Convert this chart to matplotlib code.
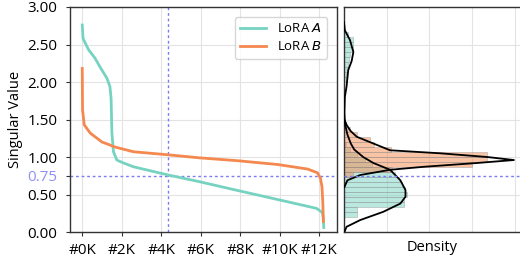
import numpy as np
import matplotlib
matplotlib.use("Agg")
import matplotlib.pyplot as plt
from matplotlib.ticker import FuncFormatter

plt.rcParams['font.family'] = ['Open Sans', 'DejaVu Sans']
plt.rcParams['mathtext.fontset'] = 'custom'
plt.rcParams['mathtext.rm'] = 'Open Sans'
plt.rcParams['mathtext.it'] = 'DejaVu Sans:italic'

# sorted singular values (index, value)
idx_a = [0, 40, 320, 640, 900, 1250, 1400, 1460, 1500, 1580, 1750, 2000, 2590, 4360, 5950, 7980,
         10000, 11850, 12150, 12190, 12220]
sv_a = [2.76, 2.58, 2.43, 2.32, 2.20, 2.05, 1.94, 1.78, 1.32, 1.07, 0.96, 0.93, 0.87, 0.76, 0.67,
        0.547, 0.427, 0.316, 0.26, 0.20, 0.06]
idx_b = [0, 15, 100, 400, 1000, 1410, 1570, 2000, 2600, 4340, 5900, 7900, 9900, 11400, 11900,
         12050, 12130, 12170, 12200]
sv_b = [2.18, 1.63, 1.43, 1.32, 1.20, 1.16, 1.14, 1.11, 1.07, 1.03, 0.99, 0.95, 0.90, 0.84, 0.79,
        0.72, 0.60, 0.40, 0.14]

# histogram bins (lower edge, density), bin width 1/15
bw = 1 / 15
hist_a_lo = [2.600, 2.533, 2.467, 2.400, 2.333, 2.267, 2.200, 2.133, 2.067, 2.000,
             1.133, 1.067, 1.000, 0.933, 0.867, 0.800, 0.733, 0.667, 0.600, 0.533,
             0.467, 0.400, 0.333, 0.267, 0.200]
hist_a_d = [0.10, 0.20, 0.20, 0.20, 0.15, 0.12, 0.10, 0.08, 0.05, 0.05,
            0.05, 0.15, 0.30, 0.50, 0.65, 1.08, 1.20, 1.30, 1.36, 1.44,
            1.47, 1.40, 1.40, 0.30, 0.30]
hist_b_lo = [1.400, 1.333, 1.267, 1.200, 1.133, 1.067, 1.000, 0.933, 0.867, 0.800, 0.733]
hist_b_d = [0.05, 0.15, 0.30, 0.60, 0.70, 1.10, 3.35, 3.35, 3.00, 1.12, 0.20]

# density curves
kde_a_v = [2.80, 2.69, 2.56, 2.40, 2.28, 2.16, 1.94, 1.80, 1.60, 1.45, 1.30, 1.18, 1.10, 1.00,
           0.92, 0.83, 0.69, 0.56, 0.47, 0.38, 0.27, 0.16, 0.07, 0.0]
kde_a_d = [0.0, 0.02, 0.14, 0.22, 0.18, 0.10, 0.06, 0.02, 0.01, 0.02, 0.08, 0.16, 0.24, 0.45,
           0.69, 1.08, 1.32, 1.44, 1.44, 1.32, 0.92, 0.38, 0.06, 0.01]
kde_b_v = [1.50, 1.43, 1.35, 1.27, 1.18, 1.09, 1.05, 1.00, 0.96, 0.92, 0.87, 0.83, 0.76, 0.69, 0.60]
kde_b_d = [0.01, 0.06, 0.15, 0.30, 0.69, 1.08, 2.25, 3.36, 3.98, 3.10, 1.87, 1.08, 0.38, 0.08, 0.01]

cut_idx = 4320
cut_val = 0.75

c_a = '#76d3c1'
c_b = '#f4884f'
c_ref = '#7b7bf2'
spine_c = '#333333'
grid_c = '#e3e3e3'

fig = plt.figure(figsize=(5.2, 2.64), dpi=100)
ax = fig.add_axes([0.1346, 0.121, 0.5139, 0.8525])
ax2 = fig.add_axes([0.6615, 0.121, 0.34, 0.8525], sharey=ax)

ax.plot(idx_a, sv_a, color=c_a, lw=2.0, label='LoRA $A$', zorder=3)
ax.plot(idx_b, sv_b, color=c_b, lw=2.0, label='LoRA $B$', zorder=3)
ax.axvline(cut_idx, color=c_ref, ls=(0, (2, 2)), lw=1.0, zorder=2)
ax.axhline(cut_val, color=c_ref, ls=(0, (2, 2)), lw=1.0, zorder=2)

ax.set_xlim(-620, 12900)
ax.set_ylim(0, 3.0)
ax.set_xticks(range(0, 12001, 2000))
ax.xaxis.set_major_formatter(FuncFormatter(lambda v, p: '#%dK' % int(round(v / 1000))))
ax.set_yticks([0, 0.5, 0.75, 1.0, 1.5, 2.0, 2.5, 3.0])
ax.set_yticklabels(['0.00', '0.50', '0.75', '1.00', '1.50', '2.00', '2.50', '3.00'])
for t in ax.get_yticklabels():
    if t.get_text() == '0.75':
        t.set_color('#8f8ff5')
ax.set_ylabel('Singular Value', fontsize=10.5, labelpad=3)
ax.tick_params(labelsize=11, length=3, width=0.8, color=spine_c)
ax.tick_params(axis='y', pad=6)
ax.tick_params(axis='x', pad=5)
ax.grid(True, color=grid_c, lw=0.8)
ax.set_axisbelow(True)
# no grid line on the 0.75 tick
ax.get_ygridlines()[2].set_visible(False)
leg = ax.legend(loc='upper right', fontsize=9.5, frameon=True, handlelength=2.0,
                borderaxespad=0.75, labelspacing=0.4)
leg.get_frame().set_edgecolor('#cccccc')

ax2.barh(hist_a_lo, hist_a_d, height=bw, align='edge', color=c_a, alpha=0.5,
         edgecolor='#888888', linewidth=0.5, zorder=2)
ax2.barh(hist_b_lo, hist_b_d, height=bw, align='edge', color=c_b, alpha=0.5,
         edgecolor='#888888', linewidth=0.5, zorder=2)
ax2.plot(kde_a_d, kde_a_v, color='black', lw=1.3, zorder=3)
ax2.plot(kde_b_d, kde_b_v, color='black', lw=1.3, zorder=3)
ax2.axhline(cut_val, color=c_ref, ls=(0, (2, 2)), lw=1.0, zorder=4)
ax2.set_xlim(0, 4.14)
ax2.set_xticks([1, 2, 3, 4])
ax2.tick_params(left=False, bottom=False, labelleft=False, labelbottom=False)
ax2.set_xlabel('Density', fontsize=10.5, labelpad=6)
ax2.grid(True, color=grid_c, lw=0.8)
ax2.set_axisbelow(True)
ax2.get_ygridlines()[2].set_visible(False)

for a in (ax, ax2):
    for s in a.spines.values():
        s.set_color(spine_c)
        s.set_linewidth(1.0)

fig.savefig('out.png', dpi=100)
